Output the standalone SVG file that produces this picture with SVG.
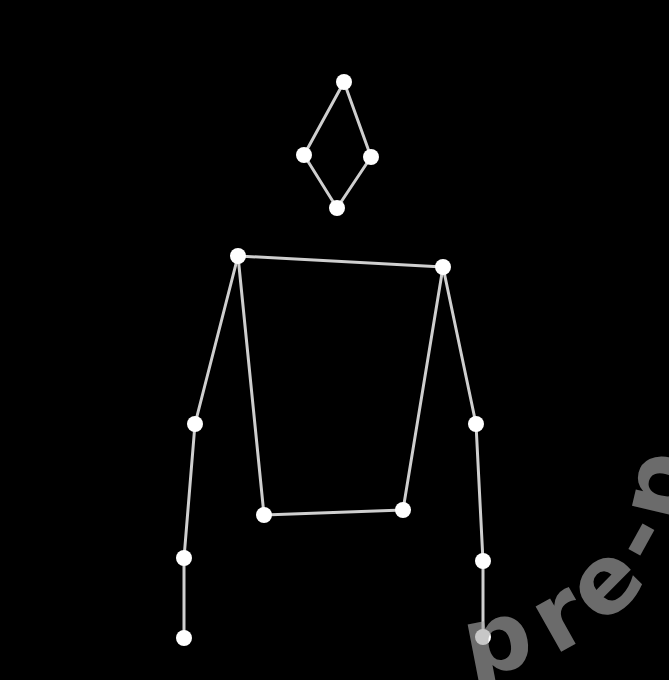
<svg xmlns="http://www.w3.org/2000/svg" width="669" height="680" viewBox="0 0 669 680">
<style>
.e{stroke:#cfcfcf;stroke-width:3;stroke-linecap:round;fill:none}
.n{fill:#ffffff}
.wm{font-family:"DejaVu Sans",sans-serif;font-weight:bold;font-size:95px;fill:#a8a8a8;fill-opacity:0.64}
</style>
<rect x="0" y="0" width="669" height="680" fill="#000000"/>
<g id="connectors">
<line class="e" x1="344" y1="82" x2="304" y2="155"/>
<line class="e" x1="344" y1="82" x2="371" y2="157"/>
<line class="e" x1="304" y1="155" x2="337" y2="208"/>
<line class="e" x1="371" y1="157" x2="337" y2="208"/>
<line class="e" x1="238" y1="256" x2="443" y2="267"/>
<line class="e" x1="238" y1="256" x2="195" y2="424"/>
<line class="e" x1="195" y1="424" x2="184" y2="558"/>
<line class="e" x1="184" y1="558" x2="184" y2="638"/>
<line class="e" x1="238" y1="256" x2="264" y2="515"/>
<line class="e" x1="264" y1="515" x2="403" y2="510"/>
<line class="e" x1="403" y1="510" x2="443" y2="267"/>
<line class="e" x1="443" y1="267" x2="476" y2="424"/>
<line class="e" x1="476" y1="424" x2="483" y2="561"/>
<line class="e" x1="483" y1="561" x2="483" y2="637"/>
</g>
<g id="nodes">
<g id="head-top"><circle class="n" cx="344" cy="82" r="8"/></g>
<g id="head-left"><circle class="n" cx="304" cy="155" r="8"/></g>
<g id="head-right"><circle class="n" cx="371" cy="157" r="8"/></g>
<g id="chin"><circle class="n" cx="337" cy="208" r="8"/></g>
<g id="shoulder-left"><circle class="n" cx="238" cy="256" r="8"/></g>
<g id="shoulder-right"><circle class="n" cx="443" cy="267" r="8"/></g>
<g id="elbow-left"><circle class="n" cx="195" cy="424" r="8"/></g>
<g id="elbow-right"><circle class="n" cx="476" cy="424" r="8"/></g>
<g id="hip-left"><circle class="n" cx="264" cy="515" r="8"/></g>
<g id="hip-right"><circle class="n" cx="403" cy="510" r="8"/></g>
<g id="wrist-left"><circle class="n" cx="184" cy="558" r="8"/></g>
<g id="wrist-right"><circle class="n" cx="483" cy="561" r="8"/></g>
<g id="hand-left"><circle class="n" cx="184" cy="638" r="8"/></g>
<g id="hand-right"><circle class="n" cx="483" cy="637" r="8"/></g>
</g>
<text class="wm" x="469.8 554.3 604.1 655.7 680.8" y="677.1 655.8 627.3 570.1 525.6" rotate="-11 -29.5 -45.4 -61 -76.7">pre-p</text>
</svg>
